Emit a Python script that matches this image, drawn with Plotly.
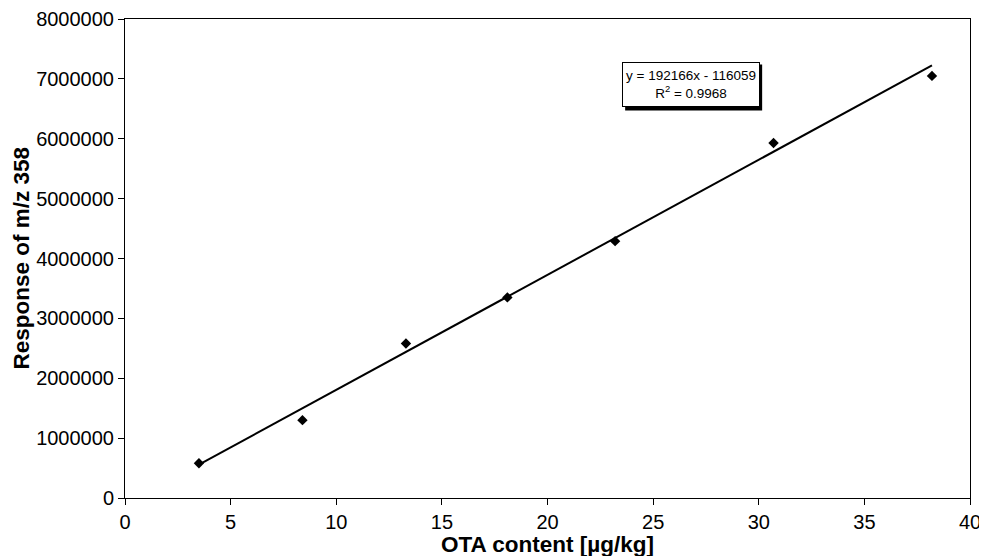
import plotly.graph_objects as go

# Data
ota_content = [3.5, 8.4, 13.3, 18.1, 23.2, 30.7, 38.2]
response = [580000, 1300000, 2580000, 3350000, 4290000, 5930000, 7050000]
slope = 192166
intercept = -116059
r_squared = 0.9968
x_ticks = [0, 5, 10, 15, 20, 25, 30, 35, 40]
y_ticks = [0, 1000000, 2000000, 3000000, 4000000, 5000000, 6000000, 7000000, 8000000]
x_title = "OTA content [µg/kg]"
y_title = "Response of m/z 358"

line_x = [min(ota_content), max(ota_content)]
line_y = [slope * v + intercept for v in line_x]

FONT = "Liberation Sans, Arial, Helvetica"

fig = go.Figure()
fig.add_trace(go.Scatter(x=line_x, y=line_y, mode="lines",
                         line=dict(color="black", width=2), showlegend=False))
fig.add_trace(go.Scatter(x=ota_content, y=response, mode="markers",
                         marker=dict(symbol="diamond", size=8, color="black"),
                         showlegend=False))

ann_x = 26.8
ann_y = 6906000
fig.add_shape(type="rect", xref="x", yref="y", xsizemode="pixel", ysizemode="pixel",
              xanchor=ann_x, yanchor=ann_y, x0=-66, x1=71, y0=-26, y1=20,
              fillcolor="black", line=dict(width=0), layer="above")
fig.add_annotation(x=ann_x, y=ann_y, xref="x", yref="y", showarrow=False,
                   text=f"y = {slope}x - {abs(intercept)}<br>R<sup>2</sup> = {r_squared}",
                   font=dict(family=FONT, size=13.5, color="black"),
                   bgcolor="white", bordercolor="black", borderwidth=1, borderpad=2,
                   width=132, height=39, align="center")

# Axis titles as annotations for precise placement
fig.add_annotation(x=0.5, y=0, xref="paper", yref="paper", showarrow=False,
                   text=f"<b>{x_title}</b>", yanchor="middle", yshift=-46,
                   font=dict(family=FONT, size=22.5, color="black"))
fig.add_annotation(x=0, y=0.5, xref="paper", yref="paper", showarrow=False,
                   text=f"<b>{y_title}</b>", textangle=-90, xanchor="center",
                   xshift=-104, font=dict(family=FONT, size=22.5, color="black"))

axis_common = dict(showline=True, linecolor="black", linewidth=1, mirror=True,
                   ticks="outside", ticklen=6, tickcolor="black", showgrid=False,
                   zeroline=False, automargin=False,
                   tickfont=dict(family=FONT, size=20, color="black"))

fig.update_xaxes(range=[0, 40], tickvals=x_ticks, ticktext=[str(v) for v in x_ticks],
                 **axis_common)
fig.update_yaxes(range=[0, 8000000], tickvals=y_ticks, ticktext=[str(v) for v in y_ticks],
                 **axis_common)

fig.update_layout(width=987, height=556, paper_bgcolor="white", plot_bgcolor="white",
                  margin=dict(l=117, r=25, t=11, b=66))

fig.write_html("out.html")
